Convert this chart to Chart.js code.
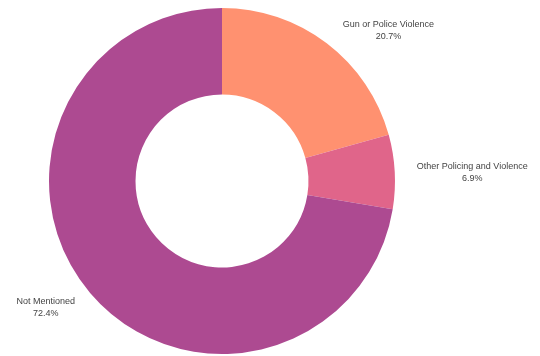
<!DOCTYPE html>
<html>
<head>
<meta charset="utf-8">
<script src="https://cdn.jsdelivr.net/npm/chart.js@4"></script>
<style>
  html, body { margin: 0; padding: 0; background: #fff; }
  #wrap { width: 540px; height: 356px; position: relative; }
</style>
</head>
<body>
<div id="wrap"><canvas id="chart" width="540" height="356"></canvas></div>
<script>
// Share of items by topic mentioned
const categories = ['Gun or Police Violence', 'Other Policing and Violence', 'Not Mentioned'];
const shares = [20.7, 6.9, 72.4];
const sliceColors = ['#FF9170', '#E0658A', '#AD4A91'];

// Fine position adjustments for the outside labels (pixels)
const labelNudge = [[10, -5], [16, 1], [-9, 10]];

// Outside labels: text block anchored beside each slice's mid-angle
const outsideLabels = {
  id: 'outsideLabels',
  afterDatasetsDraw(chart) {
    const ctx = chart.ctx;
    const meta = chart.getDatasetMeta(0);
    const fontSize = 9;
    const lineH = 12;
    ctx.save();
    ctx.font = fontSize + 'px "Liberation Sans", Arial, sans-serif';
    ctx.fillStyle = '#444';
    ctx.textAlign = 'center';
    ctx.textBaseline = 'middle';
    meta.data.forEach((arc, i) => {
      const p = arc.getProps(['x', 'y', 'startAngle', 'endAngle', 'outerRadius'], true);
      const mid = (p.startAngle + p.endAngle) / 2;
      const r = p.outerRadius;
      const px = Math.cos(mid) * r;
      const py = Math.sin(mid) * r;
      const lines = [categories[i], shares[i].toFixed(1) + '%'];
      const w = Math.max(...lines.map(t => ctx.measureText(t).width));
      const h = lines.length * lineH;
      let dx = w / 2, dy = h / 2;
      if (px < 0) dx = -dx;
      if (py < 0) dy = -dy;
      const ox = dx + Math.abs(dy) * (dx > 0 ? 1 : -1) / 2;
      const oy = dy / (1 + (px * px) / (py * py));
      const cx = p.x + px + ox + labelNudge[i][0];
      const cy = p.y + py + oy + labelNudge[i][1];
      lines.forEach((t, k) => {
        ctx.fillText(t, cx, cy - h / 2 + lineH / 2 + k * lineH);
      });
    });
    ctx.restore();
  }
};

new Chart(document.getElementById('chart'), {
  type: 'doughnut',
  data: {
    labels: categories,
    datasets: [{
      data: shares,
      backgroundColor: sliceColors,
      borderWidth: 0,
      hoverOffset: 0
    }]
  },
  options: {
    responsive: false,
    animation: false,
    cutout: '50%',
    rotation: 0,
    layout: { padding: { left: 49, right: 145, top: 8, bottom: 2 } },
    plugins: {
      legend: { display: false },
      tooltip: { enabled: false }
    }
  },
  plugins: [outsideLabels]
});
</script>
</body>
</html>
